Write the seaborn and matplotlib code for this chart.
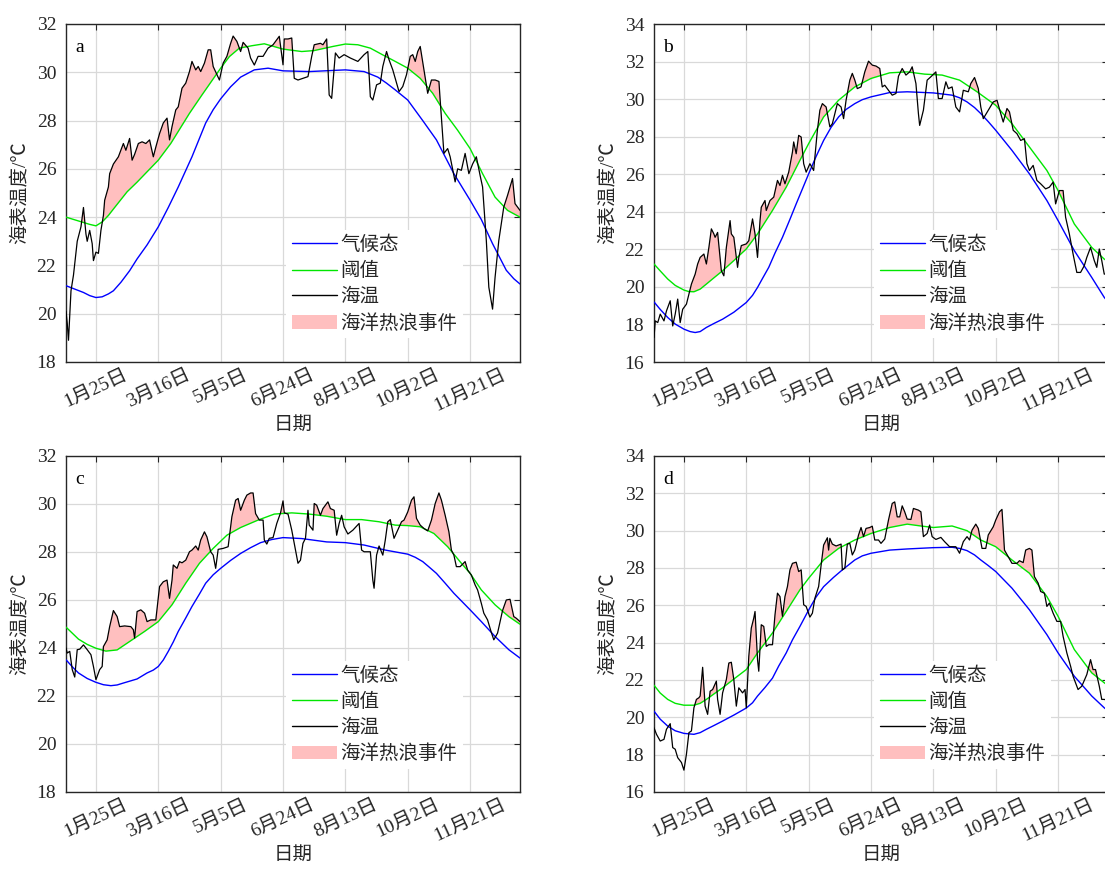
import numpy as np
import matplotlib
matplotlib.use("Agg")
import matplotlib.pyplot as plt
import seaborn as sns
from matplotlib.lines import Line2D
from matplotlib.patches import Patch

sns.set_style("white")
plt.rcParams["font.family"] = ["Liberation Serif", "Noto Sans CJK SC"]
plt.rcParams["axes.unicode_minus"] = False

# ---------------- data ----------------
tick_days = [25, 75, 125, 175, 225, 275, 325]
tick_labels = ["1月25日", "3月16日", "5月5日", "6月24日", "8月13日", "10月2日", "11月21日"]
legend_labels = ["气候态", "阈值", "海温", "海洋热浪事件"]
panel_names = ["a", "b", "c", "d"]

# panel a
a_clim_day = [1, 8, 15, 20, 25, 30, 35, 39, 45, 52, 58, 66, 75, 83, 91, 102, 113, 119, 125, 133,
              141, 152, 163, 175, 196, 225, 240, 251, 258, 265, 275, 287, 298, 312, 325, 334, 343, 349,
              354, 360, 365]
a_clim = [21.16, 21.02, 20.88, 20.75, 20.67, 20.7, 20.82, 20.95, 21.3, 21.78, 22.27, 22.85, 23.6, 24.4, 25.25,
          26.5, 27.9, 28.45, 28.9, 29.4, 29.8, 30.1, 30.17, 30.06, 30.03, 30.1, 30.03, 29.8, 29.55, 29.27,
          28.85, 28.0, 27.2, 25.8, 24.7, 23.9, 22.9, 22.3, 21.8, 21.45, 21.23]
a_thr_day = [1, 20, 25, 30, 35, 40, 50, 58, 75, 85, 100, 110, 125, 132, 140, 150, 160, 175, 190, 200,
             215, 225, 235, 245, 255, 265, 275, 285, 295, 305, 315, 325, 335, 345, 355, 365]
a_thr = [24.0, 23.7, 23.64, 23.8, 24.07, 24.4, 25.05, 25.45, 26.36, 27.05, 28.3, 29.06, 30.17, 30.65, 31.0,
         31.1, 31.18, 30.96, 30.86, 30.9, 31.07, 31.17, 31.14, 31.0, 30.72, 30.45, 30.17, 29.75, 29.13, 28.3,
         27.6, 26.84, 25.8, 24.83, 24.28, 24.0]
a_sst_day = [1, 2, 3, 5, 7, 10, 13, 15, 17, 18,
             20, 22, 23, 25, 27, 29, 31, 32, 35, 36,
             39, 43, 47, 49, 52, 54, 56, 59, 62, 65,
             68, 71, 73, 76, 79, 82, 84, 86, 89, 91,
             94, 97, 100, 102, 105, 107, 109, 112, 115, 117,
             119, 122, 124, 127, 130, 133, 135, 138, 141, 143,
             147, 149, 152, 155, 159, 163, 167, 170, 172, 175,
             176, 179, 182, 184, 187, 191, 195, 198, 200, 205,
             207, 210, 212, 214, 217, 220, 224, 229, 235, 240,
             243, 245, 247, 250, 253, 255, 258, 260, 263, 266,
             268, 271, 274, 277, 279, 281, 283, 285, 288, 291,
             294, 297, 300, 301, 304, 307, 309, 313, 315, 318,
             321, 324, 327, 330, 333, 335, 338, 340, 343, 345,
             348, 352, 355, 359, 361, 363, 365]
a_sst = [20.1, 19.6, 18.9, 20.95, 21.6, 23.0, 23.6, 24.4, 23.3, 23.0,
         23.45, 22.9, 22.2, 22.55, 22.5, 23.45, 24.07, 24.7, 25.25, 25.8,
         26.2, 26.5, 27.05, 26.77, 27.26, 26.36, 26.6, 27.05, 27.12, 27.05,
         27.2, 26.5, 26.9, 27.46, 27.9, 28.1, 27.2, 27.75, 28.44, 28.57,
         29.34, 29.55, 30.03, 30.45, 30.1, 30.24, 30.03, 30.38, 30.93, 30.93,
         30.24, 29.9, 29.68, 30.38, 30.66, 31.2, 31.5, 31.28, 30.86, 31.24,
         31.0, 30.59, 30.3, 30.66, 30.66, 31.0, 31.14, 31.35, 31.49, 30.31,
         31.38, 31.38, 31.42, 29.75, 29.68, 29.75, 29.82, 30.66, 31.14, 31.2,
         31.14, 31.38, 29.06, 28.92, 30.8, 30.59, 30.73, 30.59, 30.45, 30.73,
         30.86, 28.99, 28.85, 29.48, 29.55, 30.24, 30.86, 30.52, 30.1, 29.55,
         29.2, 29.41, 29.9, 30.66, 30.73, 30.45, 30.86, 31.07, 30.1, 29.13,
         29.68, 29.68, 29.62, 28.85, 26.64, 26.84, 26.5, 25.46, 26.0, 25.94,
         26.64, 25.8, 26.2, 26.5, 25.73, 25.25, 23.03, 21.1, 20.19, 21.5,
         23.03, 24.42, 24.9, 25.6, 24.56, 24.42, 24.28]

# panel b
b_clim_day = [1, 6, 12, 18, 25, 30, 34, 38, 43, 49, 56, 65, 75, 80, 84, 88, 93, 98, 104, 110,
              115, 125, 131, 137, 143, 149, 155, 162, 168, 175, 190, 204, 225, 240, 246, 252, 258, 263,
              269, 275, 288, 302, 316, 325, 338, 352, 362, 365]
b_clim = [19.2, 18.8, 18.37, 18.02, 17.75, 17.62, 17.57, 17.62, 17.84, 18.05, 18.28, 18.65, 19.17, 19.55,
          19.97, 20.45, 21.04, 21.8, 22.64, 23.6, 24.42, 26.02, 26.95, 27.8, 28.5, 29.05, 29.45, 29.76, 29.97,
          30.12, 30.35, 30.39, 30.33, 30.21, 30.07, 29.85, 29.55, 29.23, 28.8, 28.34, 27.27, 26.02, 24.6, 23.53,
          21.93, 20.5, 19.44, 19.2]
b_thr_day = [1, 6, 12, 18, 25, 29, 33, 38, 43, 49, 56, 65, 75, 84, 96, 107, 118, 125, 137, 149,
             162, 175, 190, 204, 218, 232, 246, 260, 275, 288, 302, 316, 325, 338, 352, 362, 365]
b_thr = [21.22, 20.85, 20.42, 20.08, 19.83, 19.75, 19.74, 19.88, 20.15, 20.48, 20.86, 21.4, 22.02, 22.82, 24.07,
         25.31, 26.74, 27.63, 29.05, 29.94, 30.65, 31.1, 31.4, 31.45, 31.33, 31.28, 31.01, 30.39, 29.67, 28.69,
         27.45, 26.2, 25.13, 23.35, 22.1, 21.48, 21.35]
b_sst_day = [1, 2, 4, 6, 9, 11, 14, 16, 18, 20,
             22, 24, 27, 31, 34, 36, 38, 41, 43, 45,
             47, 49, 50, 52, 55, 57, 59, 62, 63, 65,
             68, 69, 71, 75, 77, 80, 82, 84, 86, 87,
             90, 91, 94, 97, 100, 102, 104, 106, 109, 112,
             113, 115, 117, 119, 121, 123, 126, 129, 132, 134,
             136, 139, 142, 144, 148, 151, 153, 155, 158, 160,
             162, 164, 167, 170, 173, 176, 179, 182, 184, 186,
             189, 192, 195, 197, 200, 203, 206, 208, 211, 213,
             214, 217, 220, 223, 227, 229, 232, 235, 237, 240,
             243, 246, 249, 253, 255, 258, 261, 263, 265, 269,
             273, 276, 279, 281, 284, 286, 289, 292, 295, 298,
             300, 302, 305, 308, 311, 315, 318, 321, 323, 326,
             329, 331, 334, 337, 340, 343, 346, 348, 351, 354,
             356, 358, 360, 362, 365]
b_sst = [17.3, 18.19, 18.1, 18.55, 18.19, 18.72, 19.26, 17.92, 18.55, 19.35,
         18.1, 18.81, 19.08, 20.15, 20.68, 21.22, 21.57, 21.75, 21.22, 22.1,
         23.09, 22.82, 22.64, 22.9, 20.86, 20.59, 22.1, 23.53, 22.82, 22.64,
         21.04, 21.57, 22.2, 22.29, 22.46, 23.62, 22.82, 21.57, 23.53, 24.24,
         24.6, 24.07, 24.6, 24.78, 25.67, 25.4, 25.94, 25.49, 26.11, 27.18,
         27.72, 27.09, 28.07, 27.98, 26.56, 26.11, 26.56, 26.2, 28.34, 29.41,
         29.76, 29.58, 28.52, 28.69, 29.76, 29.58, 28.96, 29.94, 31.01, 31.37,
         31.01, 30.56, 30.65, 31.45, 32.02, 31.81, 31.76, 31.63, 30.65, 30.74,
         30.47, 30.21, 30.3, 31.22, 31.63, 31.28, 31.45, 31.72, 30.83, 29.23,
         28.6, 29.41, 31.01, 31.19, 31.45, 30.03, 30.03, 30.92, 30.56, 30.65,
         29.58, 29.32, 30.47, 30.39, 30.83, 31.15, 30.56, 29.58, 28.96, 29.41,
         29.85, 29.94, 29.23, 28.78, 29.5, 29.32, 28.34, 28.16, 27.8, 27.89,
         26.56, 26.2, 26.47, 25.67, 25.49, 25.22, 25.31, 25.58, 24.42, 25.13,
         25.13, 23.71, 22.82, 21.75, 20.77, 20.77, 21.13, 21.57, 22.1, 21.4,
         21.04, 22.02, 21.4, 20.68, 20.7]

# panel c
c_clim_day = [1, 6, 11, 18, 25, 31, 37, 42, 47, 58, 66, 71, 75, 79, 83, 87, 91, 97, 102, 108,
              113, 119, 125, 133, 141, 149, 157, 166, 175, 190, 210, 225, 240, 257, 275, 281, 287, 292,
              298, 305, 312, 325, 334, 345, 356, 365]
c_clim = [23.51, 23.22, 22.96, 22.73, 22.57, 22.47, 22.43, 22.46, 22.54, 22.71, 22.96, 23.08, 23.23, 23.5,
          23.86, 24.25, 24.69, 25.25, 25.73, 26.25, 26.7, 27.05, 27.32, 27.65, 27.94, 28.18, 28.39, 28.52, 28.6,
          28.56, 28.42, 28.39, 28.29, 28.08, 27.91, 27.78, 27.6, 27.38, 27.11, 26.7, 26.28, 25.59, 25.1, 24.48,
          23.93, 23.58]
c_thr_day = [1, 11, 18, 25, 33, 42, 52, 64, 75, 86, 97, 108, 119, 130, 141, 155, 168, 182, 196, 210,
             225, 238, 252, 265, 275, 285, 296, 307, 318, 325, 334, 345, 356, 365]
c_thr = [24.87, 24.37, 24.15, 23.99, 23.87, 23.92, 24.27, 24.69, 25.1, 25.8, 26.7, 27.53, 28.15, 28.7, 29.02,
         29.33, 29.58, 29.63, 29.58, 29.49, 29.35, 29.35, 29.26, 29.12, 29.1, 29.05, 28.77, 28.22, 27.53, 27.11,
         26.42, 25.8, 25.31, 24.99]
c_sst_day = [1, 2, 4, 6, 8, 10, 12, 15, 18, 21,
             23, 25, 28, 30, 31, 34, 36, 39, 42, 44,
             48, 53, 55, 56, 58, 61, 64, 66, 69, 73,
             76, 79, 82, 84, 86, 87, 90, 92, 94, 97,
             100, 102, 105, 107, 109, 112, 114, 117, 119, 121,
             123, 127, 131, 134, 137, 139, 141, 144, 146, 149,
             151, 153, 156, 159, 160, 162, 164, 167, 170, 173,
             175, 176, 179, 182, 185, 187, 189, 191, 193, 195,
             196, 199, 200, 202, 205, 207, 211, 213, 216, 218,
             220, 222, 224, 227, 231, 236, 238, 240, 245, 247,
             248, 250, 252, 255, 257, 259, 261, 264, 267, 270,
             272, 275, 278, 280, 282, 285, 288, 291, 294, 297,
             300, 302, 305, 308, 310, 312, 314, 317, 321, 323,
             326, 329, 331, 334, 336, 339, 342, 344, 347, 349,
             351, 354, 357, 360, 362, 365]
c_sst = [24.0, 23.79, 23.86, 23.1, 22.79, 23.93, 23.95, 24.13, 23.93, 23.72,
         23.23, 22.68, 23.1, 23.23, 24.06, 24.34, 24.89, 25.56, 25.31, 24.89,
         24.92, 24.89, 24.76, 24.41, 25.52, 25.59, 25.45, 25.1, 25.17, 25.17,
         26.56, 26.76, 26.83, 26.07, 26.83, 27.46, 27.32, 27.6, 27.55, 27.66,
         28.01, 28.08, 28.25, 28.08, 28.5, 28.84, 28.63, 28.01, 27.87, 27.32,
         28.11, 28.15, 28.22, 29.47, 30.16, 30.23, 29.74, 30.16, 30.37, 30.46,
         30.46, 29.6, 29.33, 29.33, 28.5, 28.33, 28.57, 28.6, 29.19, 29.63,
         30.13, 29.63, 29.58, 28.91, 28.08, 27.53, 27.66, 28.36, 28.57, 29.74,
         29.12, 28.91, 30.02, 29.95, 29.53, 29.81, 30.09, 29.81, 29.74, 28.7,
         29.19, 29.53, 29.05, 28.75, 28.91, 29.19, 28.08, 28.01, 28.01, 26.83,
         26.49, 27.87, 28.25, 27.87, 28.5, 29.26, 29.35, 28.57, 28.91, 29.26,
         29.33, 29.67, 30.16, 30.3, 29.4, 29.12, 28.98, 28.88, 29.33, 30.02,
         30.46, 30.16, 29.53, 28.84, 28.08, 27.87, 27.39, 27.39, 27.6, 27.25,
         27.04, 26.63, 26.42, 25.86, 25.45, 25.17, 24.65, 24.34, 24.62, 25.1,
         25.56, 26.0, 26.03, 25.31, 25.24, 25.1]

# panel d
d_clim_day = [1, 6, 12, 18, 25, 33, 38, 43, 49, 56, 65, 75, 80, 84, 90, 96, 101, 107, 112, 118,
              125, 131, 137, 145, 152, 162, 168, 175, 190, 204, 225, 240, 246, 252, 258, 263, 269, 275,
              288, 302, 316, 325, 338, 352, 362, 365]
d_clim = [20.33, 19.9, 19.53, 19.28, 19.14, 19.09, 19.18, 19.36, 19.56, 19.8, 20.12, 20.5, 20.78, 21.14, 21.6,
          22.1, 22.75, 23.45, 24.15, 24.87, 25.75, 26.45, 27.0, 27.5, 27.9, 28.43, 28.65, 28.79, 28.96, 29.02,
          29.09, 29.11, 29.05, 28.93, 28.7, 28.43, 28.13, 27.81, 26.92, 25.76, 24.43, 23.45, 22.2, 21.14, 20.51,
          20.35]
d_thr_day = [1, 6, 12, 18, 25, 33, 38, 43, 49, 56, 65, 75, 84, 96, 107, 118, 125, 137, 149, 162,
             175, 190, 204, 215, 225, 240, 252, 263, 275, 288, 302, 316, 325, 338, 352, 362, 365]
d_thr = [21.72, 21.3, 20.96, 20.75, 20.65, 20.65, 20.75, 20.96, 21.25, 21.58, 22.05, 22.56, 23.45, 24.52, 25.67,
         26.83, 27.45, 28.43, 29.05, 29.5, 29.85, 30.17, 30.35, 30.25, 30.17, 30.25, 30.0, 29.5, 29.14, 28.43,
         27.72, 26.47, 25.41, 23.63, 22.38, 21.85, 21.7]
d_sst_day = [1, 3, 6, 9, 11, 14, 16, 18, 20, 23,
             25, 27, 29, 31, 33, 35, 37, 38, 40, 42,
             44, 46, 48, 51, 52, 54, 56, 59, 61, 63,
             65, 67, 69, 72, 74, 75, 77, 79, 81, 82,
             84, 85, 87, 89, 91, 93, 96, 98, 100, 102,
             104, 106, 108, 110, 112, 115, 117, 119, 121, 123,
             126, 128, 130, 133, 135, 137, 140, 141, 142, 144,
             147, 151, 152, 154, 156, 158, 160, 162, 165, 167,
             169, 171, 174, 176, 178, 181, 183, 186, 189, 192,
             194, 196, 198, 200, 202, 204, 207, 209, 213, 215,
             217, 220, 222, 224, 227, 231, 234, 238, 243, 246,
             249, 252, 254, 256, 259, 261, 264, 267, 269, 273,
             275, 278, 280, 282, 285, 288, 292, 294, 297, 299,
             302, 304, 306, 309, 311, 314, 316, 318, 321, 324,
             327, 329, 332, 335, 337, 341, 344, 348, 351, 353,
             355, 358, 360, 362, 365]
d_sst = [19.44, 19.09, 18.73, 18.82, 19.36, 19.66, 18.38, 18.29, 17.84, 17.58,
         17.17, 18.02, 19.18, 19.27, 20.51, 20.96, 21.05, 21.14, 22.68, 20.6,
         20.16, 21.4, 21.49, 21.94, 20.96, 20.16, 21.31, 22.02, 22.91, 22.95,
         22.02, 20.6, 21.58, 21.31, 21.49, 20.51, 23.27, 24.78, 25.32, 25.67,
         23.09, 22.47, 24.96, 24.87, 23.8, 23.89, 23.89, 25.49, 26.65, 26.47,
         25.41, 26.47, 27.01, 27.9, 28.25, 28.31, 27.81, 27.9, 26.03, 25.94,
         25.37, 25.58, 26.38, 27.01, 28.16, 29.23, 29.62, 28.96, 29.59, 29.28,
         29.18, 29.28, 27.9, 27.99, 29.28, 29.32, 28.7, 28.96, 29.77, 30.17,
         29.68, 30.12, 30.17, 30.24, 29.5, 29.5, 29.32, 29.55, 30.57, 31.46,
         31.54, 30.74, 30.74, 31.33, 31.01, 30.62, 30.6, 31.19, 31.1, 31.01,
         29.68, 29.85, 30.3, 29.68, 29.53, 29.64, 29.41, 29.14, 29.14, 28.79,
         29.41, 29.68, 29.5, 30.03, 30.35, 30.12, 29.05, 29.05, 29.77, 30.21,
         30.57, 31.01, 31.14, 28.96, 28.61, 28.25, 28.25, 28.39, 28.29, 28.96,
         29.05, 28.96, 27.54, 27.19, 26.74, 26.65, 25.94, 26.12, 25.58, 25.14,
         25.14, 24.34, 23.45, 22.74, 22.2, 21.49, 21.67, 22.29, 23.09, 22.56,
         22.56, 21.67, 20.96, 20.96, 20.9]

y_limits = {"a": (18, 32), "b": (16, 34), "c": (18, 32), "d": (16, 34)}

# ---------------- styling ----------------
W, H = 1105, 873
COL_CLIM = "#0000ff"
COL_THR = "#00e600"
COL_SST = "#000000"
COL_FILL = "#ffbfbf"
DARK = "#262626"
FS = 14

def px_box(left, top, right, bottom):
    return [left / W, 1 - bottom / H, (right - left) / W, (bottom - top) / H]

positions = {
    "a": px_box(66, 24, 520, 362),
    "b": px_box(654, 24, 1108, 362),
    "c": px_box(66, 456, 520, 792),
    "d": px_box(654, 456, 1108, 792),
}

series = {
    "a": (a_clim_day, a_clim, a_thr_day, a_thr, a_sst_day, a_sst),
    "b": (b_clim_day, b_clim, b_thr_day, b_thr, b_sst_day, b_sst),
    "c": (c_clim_day, c_clim, c_thr_day, c_thr, c_sst_day, c_sst),
    "d": (d_clim_day, d_clim, d_thr_day, d_thr, d_sst_day, d_sst),
}

fig = plt.figure(figsize=(W / 100, H / 100), dpi=100)

for name in panel_names:
    cd, cv, td, tv, sd, sv = series[name]
    ax = fig.add_axes(positions[name])
    ax.set_facecolor("white")

    # marine heatwave shading between SST and threshold where SST exceeds it
    grid = np.union1d(sd, td)
    s_g = np.interp(grid, sd, sv)
    t_g = np.interp(grid, td, tv)
    ax.fill_between(grid, t_g, s_g, where=s_g > t_g, interpolate=True,
                    color=COL_FILL, linewidth=0, zorder=2)

    sns.lineplot(x=cd, y=cv, color=COL_CLIM, linewidth=1.0, ax=ax, zorder=3)
    sns.lineplot(x=td, y=tv, color=COL_THR, linewidth=1.0, ax=ax, zorder=3)
    sns.lineplot(x=sd, y=sv, color=COL_SST, linewidth=0.9, ax=ax, zorder=4)

    lo, hi = y_limits[name]
    ax.set_xlim(1, 365)
    ax.set_ylim(lo, hi)
    ax.set_yticks(np.arange(lo, hi + 0.1, 2))
    ax.set_xticks(tick_days)
    ax.set_xticklabels(tick_labels, rotation=25, ha="center")

    ax.grid(True, color="#d9d9d9", linewidth=0.9)
    ax.set_axisbelow(True)
    for sp in ax.spines.values():
        sp.set_color(DARK)
        sp.set_linewidth(1.0)
        sp.set_visible(True)
    ax.tick_params(direction="in", length=4, width=0.8, colors=DARK,
                   top=True, right=True, labelsize=FS)
    ax.tick_params(axis="y", pad=7)
    ax.tick_params(axis="x", pad=3)

    ax.set_xlabel("日期", fontsize=FS, color=DARK, labelpad=2)
    ax.set_ylabel("海表温度/℃", fontsize=FS, color=DARK, labelpad=6)

    ax.text(0.031, 0.93, name, transform=ax.transAxes, fontsize=FS,
            ha="center", va="center", color="black")

    handles = [Line2D([], [], color=COL_CLIM, lw=1.0),
               Line2D([], [], color=COL_THR, lw=1.0),
               Line2D([], [], color=COL_SST, lw=1.0),
               Patch(facecolor=COL_FILL, edgecolor="none")]
    ax.legend(handles, legend_labels, loc="upper left",
              bbox_to_anchor=(0.4846, 0.3905), borderaxespad=0,
              fontsize=FS, frameon=True, fancybox=False,
              facecolor="white", edgecolor="none", framealpha=1,
              handlelength=2.3, handletextpad=0.2, labelspacing=0.41,
              borderpad=0.3)

fig.savefig("out.png", dpi=100)
